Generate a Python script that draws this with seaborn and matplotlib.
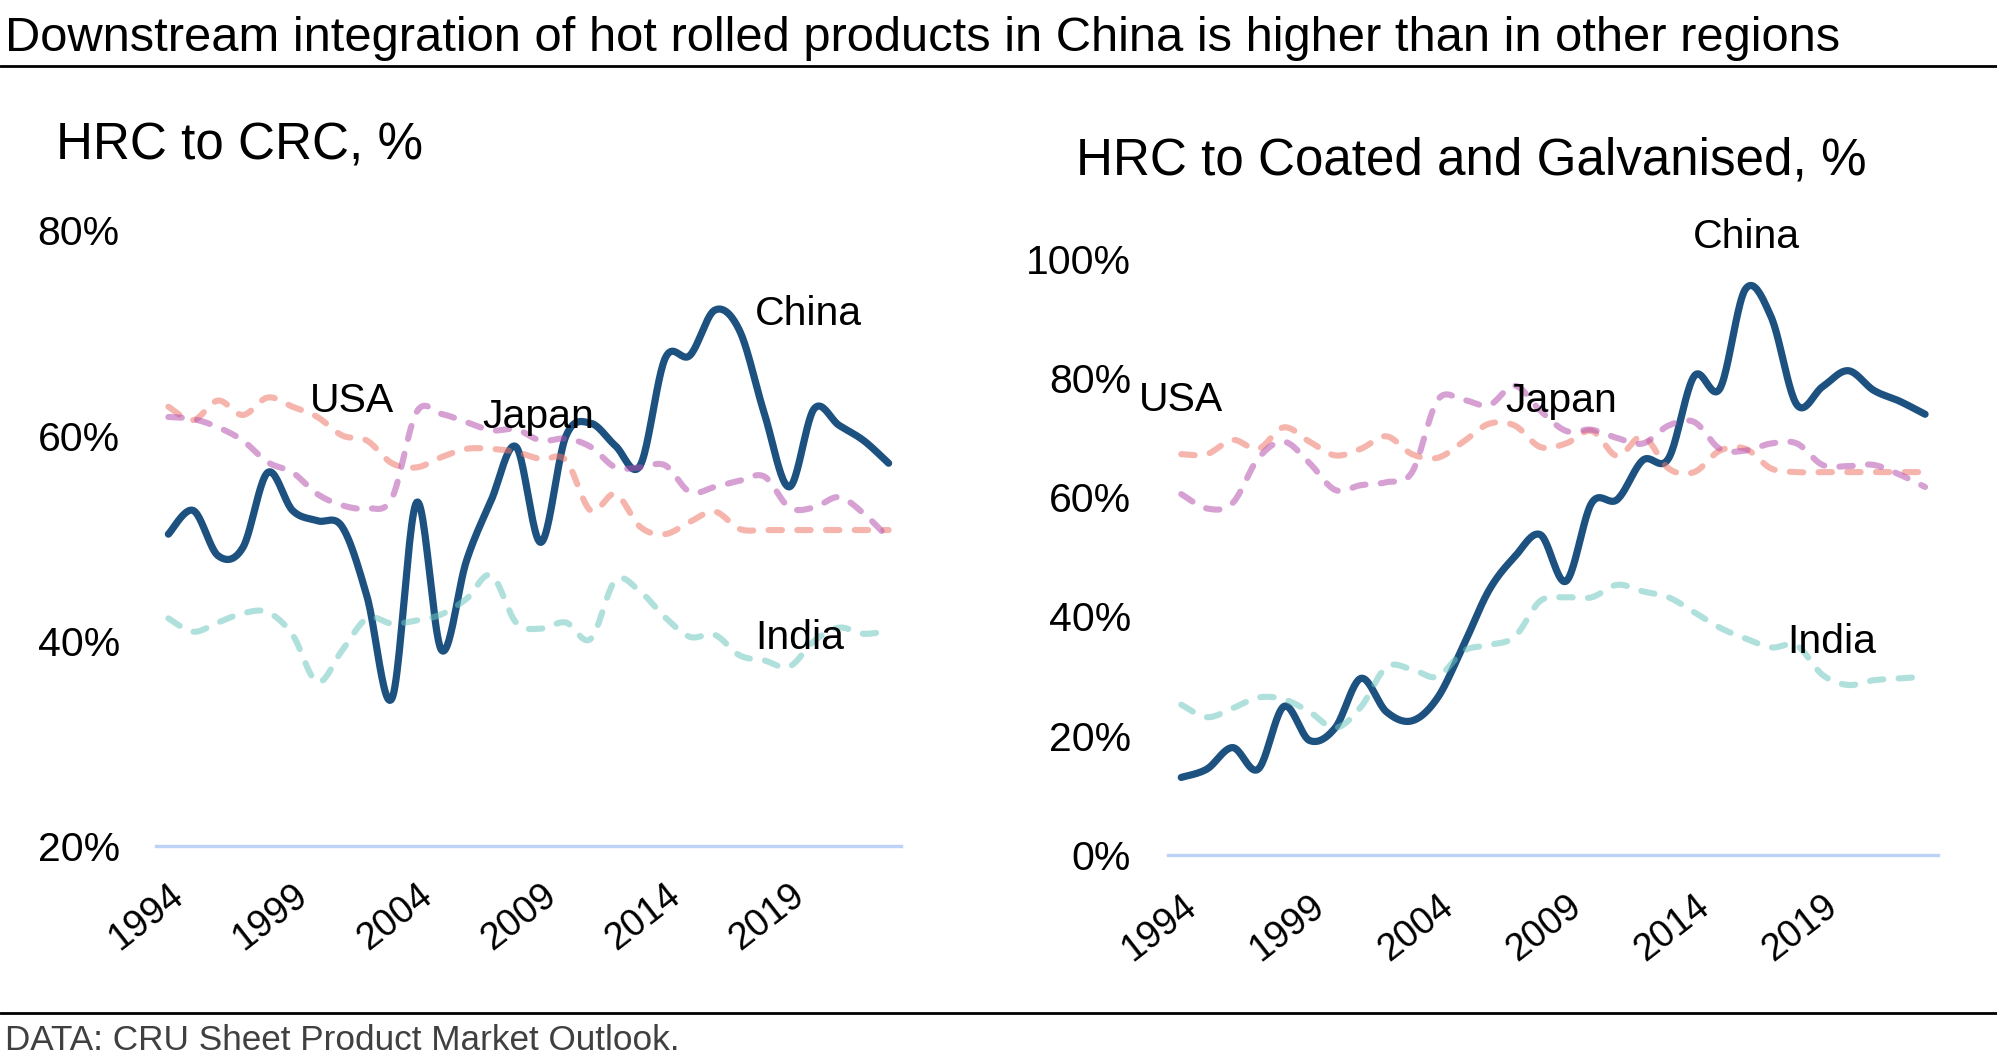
import numpy as np
import matplotlib
matplotlib.use('Agg')
import matplotlib.pyplot as plt
from matplotlib.lines import Line2D
from matplotlib.ticker import FixedLocator, FuncFormatter
import seaborn as sns

# categories
years = list(range(1994, 2024))
tick_years = [1994, 1999, 2004, 2009, 2014, 2019]

# HRC to CRC, %
china_crc = [50.4, 52.7, 48.3, 49.1, 56.4, 52.7, 51.7, 51.1, 44.3, 34.4,
             53.5, 39.1, 47.8, 53.7, 58.9, 49.6, 59.9, 61.2, 59.0, 57.1,
             67.5, 67.8, 72.2, 70.2, 62.1, 55.0, 62.6, 61.0, 59.5, 57.3]
usa_crc = [62.8, 61.5, 63.4, 62.0, 63.7, 62.8, 61.8, 60.0, 59.5, 57.3,
           56.9, 57.9, 58.7, 58.7, 58.4, 57.7, 57.6, 52.7, 54.3, 51.1,
           50.4, 51.6, 52.6, 50.9, 50.8, 50.8, 50.8, 50.8, 50.8, 50.8]
japan_crc = [61.8, 61.6, 60.8, 59.5, 57.4, 56.4, 54.3, 53.2, 52.9, 53.9,
             62.3, 62.1, 61.3, 60.5, 60.6, 59.5, 59.7, 58.9, 56.9, 56.9,
             57.1, 54.5, 55.0, 55.6, 56.0, 53.0, 53.0, 54.0, 52.4, 50.0]
india_crc = [42.2, 40.9, 41.8, 42.7, 42.8, 40.6, 36.0, 39.1, 42.2, 41.7,
             42.0, 42.6, 44.1, 46.4, 41.8, 41.2, 41.8, 40.2, 45.9, 44.8,
             42.3, 40.4, 40.6, 38.6, 38.1, 37.5, 40.0, 41.3, 40.7, 41.0]

# HRC to Coated and Galvanised, %
china_coat = [13.0, 14.4, 18.0, 14.4, 24.9, 19.2, 21.3, 29.6, 24.0, 22.5,
              26.4, 35.1, 44.4, 50.0, 53.7, 45.9, 59.0, 59.6, 66.2, 66.5,
              80.3, 78.2, 94.9, 90.2, 75.5, 78.5, 81.2, 77.9, 76.1, 73.9]
usa_coat = [67.2, 67.2, 69.6, 68.1, 71.7, 69.3, 67.0, 68.1, 70.2, 67.2,
            66.6, 69.3, 72.3, 72.0, 68.4, 69.0, 71.1, 66.9, 70.2, 64.8,
            64.2, 67.8, 68.1, 64.8, 64.2, 64.2, 64.2, 64.2, 64.2, 64.2]
japan_coat = [60.5, 58.1, 59.0, 66.5, 69.3, 65.7, 61.2, 62.0, 62.5, 64.2,
              76.3, 76.3, 75.4, 78.7, 74.5, 71.1, 71.3, 69.9, 69.0, 72.0,
              72.6, 68.1, 67.8, 69.0, 69.0, 65.4, 65.2, 65.4, 63.8, 61.7]
india_coat = [25.2, 23.1, 24.6, 26.4, 26.1, 24.0, 21.3, 24.8, 31.5, 31.1,
              29.9, 34.2, 35.2, 36.6, 42.6, 43.2, 43.2, 45.3, 44.2, 43.2,
              40.7, 38.1, 36.3, 34.8, 35.1, 30.2, 28.5, 29.3, 29.6, 29.9]

sns.set_style('white')
plt.rcParams['font.family'] = ['Liberation Sans', 'DejaVu Sans']
plt.rcParams['text.color'] = 'black'
plt.rcParams['xtick.color'] = 'black'
plt.rcParams['ytick.color'] = 'black'

CHINA = '#1d5180'
USA = (0.94, 0.47, 0.41, 0.55)
JAPAN = (0.71, 0.32, 0.69, 0.55)
INDIA = (0.43, 0.78, 0.75, 0.55)
BASE = '#bcd3f7'


def smooth(x, y, steps=24):
    # Excel-like smoothed line: cubic Bezier segments through the points
    p = np.column_stack([np.asarray(x, float), np.asarray(y, float)])
    p = np.vstack([p[:1], p, p[-1:]])
    t = np.linspace(0, 1, steps, endpoint=False)[:, None]
    parts = []
    for i in range(1, len(p) - 2):
        p0, p1, p2, p3 = p[i - 1], p[i], p[i + 1], p[i + 2]
        c1 = p1 + (p2 - p0) / 6
        c2 = p2 - (p3 - p1) / 6
        parts.append((1 - t) ** 3 * p1 + 3 * (1 - t) ** 2 * t * c1
                     + 3 * (1 - t) * t ** 2 * c2 + t ** 3 * p2)
    parts.append(p[-2:-1])
    curve = np.vstack(parts)
    return curve[:, 0], curve[:, 1]


def draw_panel(ax, china, usa, japan, india, ylim, yticks, labels, ypad, xpad):
    for vals, col, dashed in [(china, CHINA, False), (usa, USA, True),
                              (japan, JAPAN, True), (india, INDIA, True)]:
        xs, ys = smooth(years, vals)
        sns.lineplot(x=xs, y=ys, ax=ax, sort=False, estimator=None,
                     color=col, lw=4.4 if dashed else 5.2,
                     linestyle=(0, (2.2, 2.5)) if dashed else '-')
        ln = ax.lines[-1]
        ln.set_solid_capstyle('round')
        ln.set_dash_capstyle('round')
        ln.set_solid_joinstyle('round')

    ax.set_xlim(1993.5, 2023.5)
    ax.set_ylim(*ylim)
    ax.xaxis.set_major_locator(FixedLocator(tick_years))
    ax.yaxis.set_major_locator(FixedLocator(yticks))
    ax.yaxis.set_major_formatter(FuncFormatter(lambda v, _: f'{v:.0f}%'))
    ax.tick_params(axis='y', length=0, pad=ypad, labelsize=29.5)
    ax.tick_params(axis='x', length=0, pad=xpad, labelsize=27.2)
    for lab in ax.get_xticklabels():
        lab.set_rotation(38)
        lab.set_ha('right')
        lab.set_va('top')
        lab.set_rotation_mode('anchor')
    ax.set_xlabel('')
    ax.set_ylabel('')
    for side in ['left', 'right', 'top']:
        ax.spines[side].set_visible(False)
    ax.spines['bottom'].set_color(BASE)
    ax.spines['bottom'].set_linewidth(2.4)
    ax.patch.set_alpha(0)

    for text, x, y in labels:
        ax.text(x, y, text, fontsize=29.5, ha='center', va='baseline',
                clip_on=False, zorder=5)


fig = plt.figure(figsize=(19.97, 10.61), dpi=100)
ax1 = fig.add_axes([0.0781, 0.2022, 0.3731, 0.5810])
ax2 = fig.add_axes([0.5851, 0.1942, 0.3853, 0.5621])

draw_panel(ax1, china_crc, usa_crc, japan_crc, india_crc,
           (20, 80), [20, 40, 60, 80],
           [('USA', 2001.38, 62.3), ('Japan', 2008.9, 60.7),
            ('China', 2019.79, 70.8), ('India', 2019.42, 39.25)],
           ypad=26.0, xpad=22.5)
draw_panel(ax2, china_coat, usa_coat, japan_coat, india_coat,
           (0, 100), [0, 20, 40, 60, 80, 100],
           [('USA', 1994.0, 74.5), ('Japan', 2008.8, 74.2),
            ('China', 2016.04, 101.7), ('India', 2019.35, 33.9)],
           ypad=27.0, xpad=24)

fig.text(0.0025, 0.9522,
         'Downstream integration of hot rolled products in China is higher than in other regions',
         fontsize=35.2, va='baseline', ha='left')
fig.add_artist(Line2D([0, 1], [0.9378, 0.9378], transform=fig.transFigure,
                      color='black', lw=2))
fig.text(0.0280, 0.8501, 'HRC to CRC, %', fontsize=36.8, va='baseline')
fig.text(0.5388, 0.8360, 'HRC to Coated and Galvanised, %', fontsize=36.8,
         va='baseline')
fig.add_artist(Line2D([0, 1], [0.0456, 0.0456], transform=fig.transFigure,
                      color='black', lw=2))
fig.text(0.0025, 0.0104, 'DATA: CRU Sheet Product Market Outlook.',
         fontsize=25.3, color='#404040', va='baseline')

fig.savefig('out.png', dpi=100)
